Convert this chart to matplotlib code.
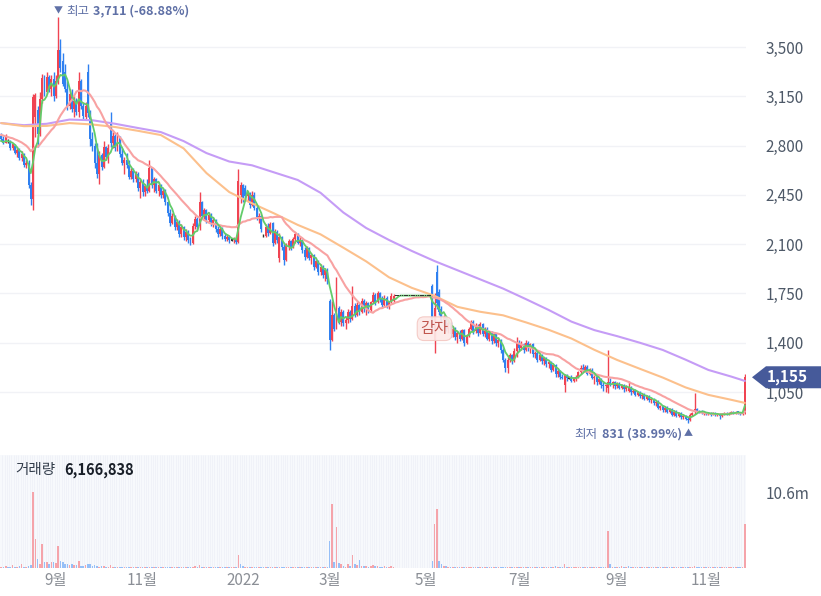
import numpy as np
import pandas as pd
import matplotlib
matplotlib.use("Agg")
import matplotlib.pyplot as plt
from matplotlib.patches import Polygon
import matplotlib.transforms as mtransforms

plt.rcParams['font.family'] = ['Noto Sans CJK KR', 'DejaVu Sans']

# ---------------- data ----------------
start_date = '2021-07-28'
end_date = '2022-11-24'
krx_holidays = ['2021-08-16', '2021-09-20', '2021-09-21', '2021-09-22', '2021-10-04',
                '2021-10-11', '2021-12-31', '2022-01-31', '2022-02-01', '2022-02-02',
                '2022-03-01', '2022-03-09', '2022-05-05', '2022-06-01', '2022-06-06',
                '2022-08-15', '2022-09-09', '2022-09-12', '2022-10-03', '2022-10-10']

opens = [
    2870, 2845, 2820, 2830, 2830, 2780, 2800, 2750, 2770, 2710,
    2740, 2660, 2680, 2520, 2420, 3000, 3050, 2880, 3130, 3280,
    3180, 3290, 3200, 3270, 3150, 3260, 3480, 3400, 3320, 3200,
    3080, 3170, 3060, 3120, 3040, 3260, 3080, 3000, 3320, 3030,
    2850, 2800, 2680, 2600, 2730, 2650, 2790, 2720, 2950, 2820,
    2870, 2780, 2860, 2740, 2680, 2700, 2660, 2580, 2620, 2560,
    2600, 2500, 2540, 2470, 2510, 2480, 2640, 2520, 2560, 2480,
    2520, 2450, 2480, 2400, 2320, 2250, 2300, 2220, 2260, 2170,
    2220, 2150, 2190, 2130, 2110, 2230, 2280, 2230, 2400, 2300,
    2340, 2270, 2310, 2250, 2270, 2210, 2170, 2210, 2160, 2140,
    2150, 2130, 2130, 2140, 2115, 2450, 2520, 2500, 2440, 2460,
    2380, 2450, 2360, 2290, 2300, 2160, 2160, 2220, 2180, 2250,
    2110, 2190, 2000, 2150, 2080, 1990, 2090, 2120, 2080, 2140,
    2170, 2110, 2130, 2060, 2010, 2070, 2000, 2020, 1940, 1980,
    1900, 1940, 1880, 1920, 1700, 1420, 1600, 1520, 1650, 1550,
    1620, 1540, 1560, 1620, 1570, 1660, 1600, 1670, 1620, 1700,
    1640, 1680, 1630, 1690, 1740, 1690, 1750, 1710, 1670, 1720,
    1660, 1690, 1700, 1735, 1735, 1735, 1735, 1735, 1735, 1735,
    1735, 1735, 1735, 1735, 1735, 1735, 1735, 1735, 1735, 1800,
    1420, 1900, 1760, 1640, 1560, 1580, 1500, 1540, 1460, 1500,
    1440, 1470, 1430, 1490, 1400, 1450, 1500, 1550, 1480, 1520,
    1470, 1530, 1460, 1500, 1430, 1470, 1410, 1460, 1400, 1420,
    1350, 1280, 1220, 1280, 1310, 1270, 1340, 1400, 1360, 1390,
    1350, 1400, 1370, 1390, 1320, 1330, 1280, 1310, 1270, 1290,
    1250, 1260, 1210, 1240, 1180, 1200, 1160, 1100, 1170, 1150,
    1150, 1130, 1150, 1160, 1190, 1220, 1200, 1230, 1180, 1210,
    1150, 1160, 1120, 1140, 1100, 1090, 1080, 1120, 1110, 1120,
    1090, 1110, 1080, 1100, 1070, 1060, 1080, 1050, 1060, 1030,
    1050, 1020, 1030, 1000, 1020, 990, 1000, 970, 980, 940,
    950, 920, 940, 910, 930, 890, 910, 880, 900, 870,
    880, 860, 850, 890, 905, 930, 915, 910, 900, 905,
    895, 900, 890, 900, 890, 895, 880, 895, 900, 890,
    900, 910, 900, 910, 905, 895, 900]

highs = [
    2890, 2870, 2880, 2845, 2840, 2820, 2810, 2790, 2780, 2760,
    2750, 2700, 2700, 2540, 3170, 3175, 3080, 3180, 3310, 3300,
    3320, 3300, 3300, 3320, 3300, 3711, 3560, 3460, 3380, 3260,
    3200, 3200, 3150, 3140, 3320, 3270, 3100, 3110, 3380, 3050,
    2900, 2820, 2820, 2760, 2750, 2830, 2800, 2810, 3040, 2900,
    2880, 2900, 2870, 2780, 2720, 2750, 2700, 2640, 2640, 2620,
    2610, 2560, 2560, 2530, 2560, 2700, 2650, 2580, 2570, 2540,
    2530, 2500, 2490, 2410, 2350, 2320, 2310, 2280, 2270, 2240,
    2230, 2210, 2200, 2150, 2250, 2300, 2290, 2470, 2410, 2360,
    2350, 2330, 2320, 2290, 2280, 2230, 2230, 2220, 2180, 2170,
    2160, 2140, 2150, 2150, 2634, 2540, 2530, 2520, 2480, 2470,
    2480, 2470, 2370, 2320, 2310, 2170, 2240, 2250, 2260, 2260,
    2210, 2200, 2180, 2160, 2100, 2110, 2140, 2130, 2150, 2190,
    2180, 2150, 2140, 2080, 2090, 2080, 2040, 2030, 1990, 1990,
    1960, 1950, 1930, 1930, 1710, 1700, 1610, 1865, 1660, 1640,
    1630, 1580, 1640, 1630, 1800, 1680, 1690, 1680, 1720, 1710,
    1700, 1690, 1700, 1760, 1750, 1770, 1760, 1730, 1740, 1730,
    1700, 1750, 1745, 1735, 1735, 1735, 1735, 1735, 1735, 1735,
    1735, 1735, 1735, 1735, 1735, 1735, 1735, 1735, 1735, 1820,
    1750, 1952, 1780, 1660, 1600, 1590, 1560, 1550, 1520, 1510,
    1480, 1490, 1500, 1500, 1460, 1510, 1560, 1560, 1540, 1530,
    1550, 1540, 1510, 1510, 1480, 1480, 1470, 1470, 1440, 1430,
    1360, 1290, 1300, 1330, 1320, 1360, 1440, 1420, 1410, 1400,
    1420, 1410, 1400, 1400, 1340, 1340, 1330, 1320, 1300, 1300,
    1280, 1270, 1250, 1250, 1220, 1210, 1180, 1180, 1180, 1160,
    1170, 1160, 1170, 1200, 1240, 1250, 1240, 1240, 1220, 1220,
    1170, 1170, 1150, 1150, 1120, 1110, 1350, 1150, 1130, 1130,
    1120, 1120, 1110, 1110, 1100, 1130, 1090, 1070, 1070, 1060,
    1060, 1040, 1040, 1030, 1030, 1010, 1010, 990, 990, 960,
    960, 950, 950, 940, 940, 920, 920, 910, 910, 890,
    890, 870, 900, 910, 1043, 940, 925, 920, 910, 910,
    905, 905, 905, 905, 900, 900, 900, 905, 905, 905,
    915, 915, 915, 915, 910, 910, 1175]

lows = [
    2830, 2810, 2815, 2815, 2770, 2770, 2740, 2720, 2700, 2690,
    2650, 2640, 2500, 2380, 2343, 2860, 2790, 2870, 3100, 3150,
    3170, 3180, 3150, 3120, 3140, 3240, 3320, 3220, 3180, 3050,
    3060, 3040, 3000, 3020, 3000, 3060, 2990, 2980, 3000, 2800,
    2760, 2640, 2570, 2530, 2630, 2640, 2700, 2680, 2790, 2780,
    2760, 2760, 2720, 2660, 2600, 2640, 2560, 2560, 2540, 2540,
    2480, 2430, 2440, 2440, 2460, 2470, 2500, 2470, 2460, 2440,
    2430, 2430, 2380, 2300, 2230, 2240, 2200, 2200, 2150, 2150,
    2130, 2120, 2110, 2094, 2100, 2210, 2200, 2200, 2280, 2280,
    2250, 2250, 2230, 2220, 2190, 2150, 2160, 2140, 2120, 2120,
    2110, 2120, 2110, 2100, 2110, 2390, 2400, 2410, 2400, 2360,
    2370, 2340, 2270, 2250, 2190, 2150, 2150, 2160, 2170, 2090,
    2100, 2110, 1975, 2060, 1950, 1980, 2060, 2060, 2070, 2110,
    2100, 2090, 2040, 1990, 2000, 1990, 1960, 1920, 1930, 1880,
    1880, 1860, 1840, 1820, 1350, 1410, 1480, 1500, 1530, 1520,
    1520, 1500, 1540, 1550, 1560, 1580, 1590, 1600, 1610, 1620,
    1600, 1610, 1620, 1680, 1670, 1680, 1690, 1650, 1660, 1650,
    1640, 1680, 1690, 1735, 1735, 1735, 1735, 1735, 1735, 1735,
    1735, 1735, 1735, 1735, 1735, 1735, 1735, 1735, 1735, 1480,
    1330, 1640, 1600, 1540, 1520, 1480, 1470, 1440, 1440, 1420,
    1400, 1410, 1420, 1380, 1390, 1440, 1490, 1460, 1470, 1450,
    1460, 1450, 1440, 1420, 1410, 1390, 1400, 1380, 1370, 1330,
    1260, 1190, 1185, 1260, 1250, 1260, 1300, 1340, 1350, 1330,
    1340, 1340, 1330, 1300, 1290, 1260, 1270, 1250, 1240, 1230,
    1220, 1190, 1200, 1160, 1160, 1140, 1140, 1050, 1130, 1140,
    1120, 1120, 1130, 1150, 1180, 1190, 1190, 1170, 1170, 1140,
    1110, 1100, 1110, 1080, 1060, 1050, 1040, 1090, 1080, 1070,
    1080, 1070, 1070, 1050, 1060, 1050, 1030, 1040, 1020, 1020,
    1010, 1000, 990, 990, 980, 970, 960, 950, 930, 920,
    910, 910, 900, 900, 880, 880, 870, 870, 860, 860,
    850, 831, 845, 880, 895, 905, 900, 895, 890, 885,
    885, 880, 885, 880, 880, 860, 875, 885, 885, 885,
    895, 895, 895, 895, 890, 890, 895]

closes = [
    2845, 2820, 2860, 2830, 2780, 2810, 2750, 2770, 2710, 2740,
    2660, 2680, 2520, 2420, 3145, 3160, 2880, 3130, 3280, 3180,
    3290, 3200, 3270, 3150, 3260, 3480, 3350, 3240, 3200, 3080,
    3170, 3060, 3120, 3040, 3260, 3080, 3010, 3080, 3030, 2850,
    2800, 2680, 2600, 2730, 2650, 2790, 2720, 2780, 2820, 2870,
    2780, 2860, 2740, 2680, 2700, 2660, 2580, 2620, 2560, 2600,
    2500, 2540, 2470, 2510, 2480, 2640, 2520, 2560, 2480, 2520,
    2450, 2480, 2400, 2320, 2250, 2300, 2220, 2260, 2170, 2220,
    2150, 2190, 2130, 2110, 2230, 2280, 2220, 2400, 2300, 2340,
    2270, 2310, 2250, 2270, 2210, 2170, 2210, 2160, 2140, 2150,
    2130, 2130, 2140, 2115, 2550, 2520, 2430, 2440, 2460, 2380,
    2450, 2360, 2290, 2300, 2210, 2160, 2220, 2180, 2240, 2110,
    2190, 2130, 2150, 2080, 1990, 2090, 2120, 2080, 2140, 2170,
    2110, 2130, 2060, 2010, 2070, 2000, 2020, 1940, 1980, 1900,
    1940, 1880, 1920, 1850, 1420, 1600, 1500, 1650, 1550, 1620,
    1540, 1560, 1620, 1570, 1660, 1600, 1670, 1620, 1700, 1640,
    1680, 1630, 1690, 1740, 1690, 1750, 1710, 1670, 1720, 1660,
    1690, 1735, 1735, 1735, 1735, 1735, 1735, 1735, 1735, 1735,
    1735, 1735, 1735, 1735, 1735, 1735, 1735, 1735, 1735, 1520,
    1650, 1680, 1620, 1560, 1580, 1500, 1540, 1460, 1500, 1440,
    1470, 1430, 1490, 1400, 1450, 1500, 1550, 1480, 1520, 1470,
    1530, 1460, 1500, 1430, 1470, 1410, 1460, 1400, 1420, 1350,
    1280, 1220, 1280, 1310, 1270, 1340, 1400, 1360, 1390, 1350,
    1400, 1370, 1390, 1320, 1330, 1280, 1310, 1270, 1290, 1250,
    1260, 1210, 1240, 1180, 1200, 1160, 1150, 1170, 1150, 1150,
    1130, 1150, 1160, 1190, 1220, 1200, 1230, 1180, 1210, 1150,
    1160, 1120, 1140, 1100, 1090, 1100, 1120, 1110, 1120, 1090,
    1110, 1080, 1100, 1070, 1090, 1080, 1050, 1060, 1030, 1050,
    1020, 1030, 1000, 1020, 990, 1000, 970, 980, 940, 950,
    920, 940, 910, 930, 890, 910, 880, 900, 870, 880,
    860, 850, 890, 900, 930, 915, 910, 900, 905, 895,
    900, 890, 900, 890, 895, 880, 895, 900, 890, 900,
    910, 900, 910, 905, 895, 905, 1155]

# closes before the first visible day (moving-average warm-up)
prior_closes = [2920, 2950, 2930, 2900, 2880, 2910, 2890, 2870, 2900, 2880,
                2910, 2860, 2880, 2850, 2830, 2860, 2820, 2840, 2800]

# volume in millions of shares
volumes_m = [
    0.20, 0.15, 0.30, 0.10, 0.20, 0.35, 0.15, 0.20, 0.25, 0.50,
    0.20, 0.15, 0.30, 0.45, 10.6, 4.1, 1.3, 0.6, 3.4, 0.8,
    0.9, 0.6, 0.8, 0.9, 0.7, 3.1, 1.0, 0.8, 0.6, 0.5,
    0.4, 0.5, 0.4, 0.4, 1.0, 0.3, 0.3, 0.4, 0.6, 0.5,
    0.3, 0.4, 0.3, 0.2, 0.25, 0.3, 0.2, 0.15, 0.35, 0.2,
    0.15, 0.2, 0.15, 0.1, 0.12, 0.1, 0.15, 0.1, 0.12, 0.1,
    0.1, 0.12, 0.1, 0.15, 0.1, 0.2, 0.15, 0.12, 0.1, 0.15,
    0.12, 0.1, 0.15, 0.12, 0.1, 0.1, 0.12, 0.15, 0.1, 0.12,
    0.1, 0.15, 0.12, 0.2, 0.15, 0.25, 0.12, 0.35, 0.2, 0.15,
    0.12, 0.1, 0.15, 0.1, 0.12, 0.1, 0.1, 0.12, 0.1, 0.1,
    0.1, 0.08, 0.1, 0.12, 1.8, 0.6, 0.3, 0.2, 0.15, 0.2,
    0.15, 0.12, 0.1, 0.1, 0.12, 0.08, 0.1, 0.1, 0.12, 0.1,
    0.1, 0.12, 0.15, 0.1, 0.2, 0.1, 0.12, 0.1, 0.1, 0.12,
    0.1, 0.1, 0.12, 0.15, 0.1, 0.12, 0.1, 0.15, 0.1, 0.12,
    0.1, 0.12, 0.15, 0.2, 3.8, 9.0, 0.9, 5.8, 0.7, 0.5,
    0.3, 0.2, 0.6, 0.3, 1.8, 0.6, 0.4, 1.1, 0.3, 0.3,
    0.25, 0.2, 0.3, 0.4, 0.3, 0.3, 0.2, 0.2, 0.25, 0.2,
    0.2, 0.3, 0.2, 0, 0, 0, 0, 0, 0, 0,
    0, 0, 0, 0, 0, 0, 0, 0, 0, 1.0,
    6.2, 8.2, 1.0, 0.5, 0.3, 0.25, 0.2, 0.2, 0.15, 0.2,
    0.15, 0.12, 0.15, 0.2, 0.15, 0.1, 0.15, 0.12, 0.1, 0.12,
    0.1, 0.1, 0.12, 0.1, 0.1, 0.12, 0.1, 0.1, 0.12, 0.1,
    0.15, 0.2, 0.15, 0.12, 0.1, 0.12, 0.2, 0.1, 0.1, 0.12,
    0.1, 0.1, 0.12, 0.1, 0.1, 0.1, 0.12, 0.1, 0.1, 0.1,
    0.12, 0.15, 0.2, 0.3, 0.12, 0.1, 0.2, 0.6, 0.15, 0.1,
    0.1, 0.12, 0.1, 0.1, 0.1, 0.12, 0.1, 0.1, 0.12, 0.1,
    0.1, 0.1, 0.12, 0.15, 0.2, 0.15, 5.2, 0.5, 0.2, 0.15,
    0.15, 0.12, 0.25, 0.15, 0.12, 0.3, 0.1, 0.12, 0.1, 0.1,
    0.1, 0.12, 0.1, 0.1, 0.12, 0.1, 0.1, 0.12, 0.1, 0.1,
    0.12, 0.1, 0.1, 0.1, 0.12, 0.1, 0.1, 0.1, 0.12, 0.1,
    0.12, 0.15, 0.1, 0.12, 0.3, 0.12, 0.1, 0.1, 0.1, 0.1,
    0.1, 0.1, 0.1, 0.12, 0.1, 0.1, 0.1, 0.1, 0.1, 0.1,
    0.1, 0.12, 0.1, 0.1, 0.1, 0.12, 6.166838]

# 60- and 120-day moving averages (trading-day index, price)
ma_idx = [0, 10, 20, 30, 40, 50, 60, 70, 80, 90, 100, 110, 120, 130, 140, 150, 160,
          170, 180, 190, 200, 210, 220, 230, 240, 250, 260, 270, 280, 290, 300, 310,
          320, 326]
ma60_vals = [2960, 2938, 2940, 2960, 2950, 2932, 2905, 2875, 2780, 2605, 2470, 2390,
             2316, 2237, 2170, 2075, 1978, 1865, 1790, 1733, 1655, 1620, 1595, 1545,
             1492, 1430, 1350, 1278, 1215, 1153, 1083, 1030, 995, 973]
ma120_vals = [2960, 2945, 2955, 2985, 2980, 2955, 2925, 2896, 2832, 2747, 2687, 2660,
              2608, 2556, 2465, 2325, 2215, 2130, 2052, 1980, 1915, 1850, 1785, 1710,
              1633, 1550, 1490, 1447, 1400, 1349, 1280, 1207, 1160, 1129]

price_ticks = [1050, 1400, 1750, 2100, 2450, 2800, 3150, 3500]
month_labels = ['9월', '11월', '2022', '3월', '5월', '7월', '9월', '11월']
event_label = '감자'
event_index = 190

# ---------------- derived ----------------
n = len(closes)
dates = pd.bdate_range(start_date, end_date, freq='C', holidays=krx_holidays)
assert len(dates) == n == len(opens) == len(highs) == len(lows) == len(volumes_m), \
    (len(dates), n, len(opens), len(highs), len(lows), len(volumes_m))

o = np.array(opens, float); h = np.array(highs, float)
l = np.array(lows, float); c = np.array(closes, float)
x = np.arange(n)

allc = pd.Series(prior_closes + closes, dtype=float)
ma5 = allc.rolling(5).mean().to_numpy()[len(prior_closes):]
ma20 = allc.rolling(20).mean().to_numpy()[len(prior_closes):]

# ---------------- figure ----------------
W, H = 821, 596
fig = plt.figure(figsize=(W / 100, H / 100), dpi=100)
fig.patch.set_facecolor('white')


def fbox(x0, y0, x1, y1):
    return [x0 / W, 1 - y1 / H, (x1 - x0) / W, (y1 - y0) / H]


ax = fig.add_axes(fbox(0, 0, 746, 445))
axv = fig.add_axes(fbox(0, 455, 746, 568), sharex=ax)

RED = '#f04452'
BLUE = '#2f80f0'
DARK = '#333333'
LABEL = '#4e5968'
ANN = '#5f70a6'

# candles
cols = np.where(c > o, RED, np.where(c < o, BLUE, DARK))
ax.vlines(x, l, h, colors=cols, lw=1.0, zorder=2)
minh = 10.0
body_h = np.maximum(np.abs(c - o), minh)
body_b = np.minimum(o, c) - (body_h - np.abs(c - o)) / 2
ax.bar(x, body_h, width=0.86, bottom=body_b, color=cols, linewidth=0, zorder=2)

# moving averages
ax.plot(ma_idx, ma120_vals, color='#c59cf6', lw=1.5, zorder=3, solid_capstyle='round')
ax.plot(ma_idx, ma60_vals, color='#fcc08c', lw=1.5, zorder=3, solid_capstyle='round')
ax.plot(x, ma20, color='#f8a2a2', lw=1.5, zorder=3)
ax.plot(x, ma5, color='#62cc6a', lw=1.3, zorder=3)

# doji (e.g. halted days) drawn on top
flat = (o == c) & (h == l)
ax.bar(x[flat], np.full(flat.sum(), minh), width=0.72, bottom=c[flat] - minh / 2,
       color=DARK, linewidth=0, zorder=4)

ax.set_xlim(-0.5, n - 0.5)
ax.set_ylim(674, 3834)
ax.yaxis.tick_right()
ax.set_yticks(price_ticks)
ax.set_yticklabels([f'{v:,}' for v in price_ticks])
ax.tick_params(axis='y', length=0, pad=14, labelsize=11, labelcolor=LABEL)
ax.tick_params(axis='x', length=0, labelbottom=False)
ax.grid(axis='y', color='#f1f2f6', lw=1)
ax.set_axisbelow(True)
for s in ax.spines.values():
    s.set_visible(False)

# high / low annotations
imax = int(np.argmax(h)); imin = int(np.argmin(l))
pct_hi = (c[-1] / h[imax] - 1) * 100
pct_lo = (c[-1] / l[imin] - 1) * 100
ax.annotate('▼', (imax, h[imax]), xytext=(0, 4.5), textcoords='offset points',
            ha='center', va='center', fontsize=6.5, color=ANN)
ax.annotate('최고', (imax, h[imax]), xytext=(5.6, 4.5), textcoords='offset points',
            ha='left', va='center', fontsize=9, color=ANN)
ax.annotate(f'{int(h[imax]):,} ({pct_hi:.2f}%)', (imax, h[imax]), xytext=(25, 4.5),
            textcoords='offset points', ha='left', va='center', fontsize=9,
            color=ANN, fontweight='bold')
ax.annotate('▲', (imin, l[imin]), xytext=(0, -8), textcoords='offset points',
            ha='center', va='center', fontsize=6.5, color=ANN)
ax.annotate('최저', (imin, l[imin]), xytext=(-82, -8), textcoords='offset points',
            ha='left', va='center', fontsize=9, color=ANN)
ax.annotate(f'{int(l[imin]):,} ({pct_lo:.2f}%)', (imin, l[imin]), xytext=(-62, -8),
            textcoords='offset points', ha='left', va='center', fontsize=9,
            color=ANN, fontweight='bold')

# event badge
ax.text(event_index, 1500, event_label, ha='center', va='center', fontsize=11,
        color='#c0564e', zorder=6,
        bbox=dict(boxstyle='round,pad=0.22,rounding_size=0.45', fc='#fdeae8',
                  ec='#f4c8c3', lw=0.8, alpha=0.92))

# ---------------- volume ----------------
prev_c = np.concatenate([[prior_closes[-1]], c[:-1]])
vcols = np.where(c >= prev_c, '#f5a4aa', '#96bff7')
axv.set_facecolor('#f7f9fc')
axv.vlines(x + 0.5, 0, 15.8, color='#edf0f7', lw=0.5, zorder=0)
axv.bar(x, volumes_m, width=0.7, color=vcols, linewidth=0, zorder=2)
axv.set_ylim(0, 15.8)
axv.yaxis.tick_right()
axv.set_yticks([10.6])
axv.set_yticklabels(['10.6m'])
axv.tick_params(axis='y', length=0, pad=14, labelsize=11, labelcolor=LABEL)
for s in axv.spines.values():
    s.set_visible(False)

month_pos = [i for i in range(1, n)
             if dates[i].month != dates[i - 1].month and dates[i].month % 2 == 1]
axv.set_xticks(month_pos)
axv.set_xticklabels(month_labels[:len(month_pos)])
axv.tick_params(axis='x', length=0, pad=3, labelsize=11, labelcolor='#8b8f96')

fig.text(15 / W, 1 - 470 / H, '거래량', ha='left', va='center', fontsize=10.5,
         color='#333d4b')
fig.text(64 / W, 1 - 470 / H, f'{round(volumes_m[-1] * 1e6):,}', ha='left',
         va='center', fontsize=10.5, color='#191f28', fontweight='bold')

# last price badge
fig.canvas.draw()
yd = ax.transData.transform((0, c[-1]))[1]
hh = 11
badge = Polygon([(752, yd), (766, yd + hh), (821, yd + hh), (821, yd - hh), (766, yd - hh)],
                closed=True, transform=mtransforms.IdentityTransform(),
                facecolor='#465a9a', edgecolor='none', zorder=20)
fig.add_artist(badge)
fig.text(767 / W, yd / H, f'{int(c[-1]):,}', ha='left', va='center', fontsize=11,
         color='white', fontweight='bold', zorder=21)

fig.savefig('out.png', dpi=100, facecolor='white')
